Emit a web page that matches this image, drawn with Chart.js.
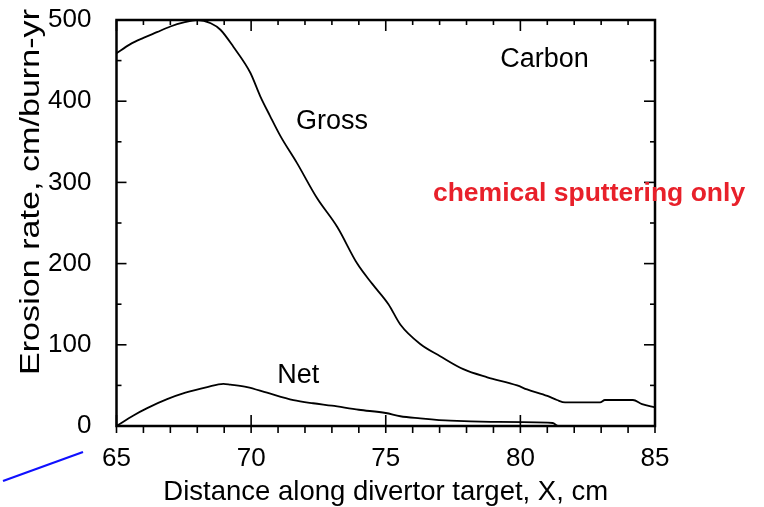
<!DOCTYPE html>
<html lang="en">
<head>
<meta charset="UTF-8">
<title>Carbon erosion rate along divertor target</title>
<script src="https://cdn.jsdelivr.net/npm/chart.js"></script>
<style>
  body { margin: 0; background: #fff; }
  canvas { display: block; }
</style>
</head>
<body>
<canvas id="erosionChart" width="764" height="507"></canvas>
<script>
  // distance along target (cm) and erosion rate (cm/burn-yr), chemical sputtering only
  const grossX = [65, 65.5, 66, 66.5, 67, 67.5, 68, 68.5, 68.86, 69.34, 69.97, 70.34, 70.7, 71.09, 71.7,
                  72.44, 73.2, 73.94, 74.5, 75.1, 75.54, 76.28, 77.02, 77.88, 78.77, 79.88, 80.25, 81.0,
                  81.36, 81.66, 82.96, 83.14, 84.18, 84.52, 85];
  const grossRate = [459, 470, 478, 485, 492, 497, 500, 496, 488, 467, 435, 406, 382, 357, 324,
                     281, 245, 200, 175, 150, 125, 101, 86, 70, 60, 50, 45, 37,
                     32, 29, 29, 32, 32, 27, 23];
  const netX = [65, 65.63, 66.14, 66.88, 67.56, 68.37, 68.97, 69.23, 69.85, 70.59, 71.57, 72.3, 73, 74,
                75, 75.54, 76.28, 77.4, 78.9, 81.2, 81.4, 85];
  const netRate = [0, 13, 22, 33, 41, 48, 52, 51, 48, 41, 32, 28, 25, 20,
                   16, 12, 9.5, 6.5, 5, 3.7, 0, 0];

  const FONT = "'Liberation Sans', Arial, sans-serif";

  function toPoints(xs, ys) {
    return xs.map((x, i) => ({ x: x, y: ys[i] }));
  }

  function stroke(ctx, x1, y1, x2, y2) {
    ctx.beginPath();
    ctx.moveTo(x1, y1);
    ctx.lineTo(x2, y2);
    ctx.stroke();
  }

  // box frame with inward tick marks on all four sides
  const framePlugin = {
    id: 'frame',
    afterDraw(chart) {
      const { ctx, chartArea: a, scales: { x, y } } = chart;
      ctx.save();
      ctx.strokeStyle = '#000';
      ctx.lineWidth = 2.5;
      ctx.strokeRect(a.left, a.top, a.right - a.left, a.bottom - a.top);
      ctx.lineWidth = 1.6;
      for (let v = x.min; v <= x.max; v += 1) {
        const px = x.getPixelForValue(v);
        const major = v % 5 === 0;
        stroke(ctx, px, a.top, px, a.top + (major ? 11 : 5));
        stroke(ctx, px, a.bottom + 7, px, a.bottom - (major ? 11 : 0));
      }
      for (let v = y.min; v <= y.max; v += 50) {
        const py = y.getPixelForValue(v);
        const major = v % 100 === 0;
        stroke(ctx, a.left, py, a.left + (major ? 10 : 5), py);
        stroke(ctx, a.right, py, a.right - (major ? 11 : 5), py);
      }
      ctx.restore();
    }
  };

  // axis titles, curve labels and notes
  const textPlugin = {
    id: 'texts',
    afterDraw(chart) {
      const { ctx, chartArea: a, scales: { x, y } } = chart;
      ctx.save();
      ctx.fillStyle = '#000';
      ctx.textBaseline = 'alphabetic';
      ctx.textAlign = 'center';

      ctx.font = '27.5px ' + FONT;
      ctx.fillText('Distance along divertor target, X, cm', (a.left + a.right) / 2, 500);

      // vertical title, slightly stretched along its length
      const yTitle = 'Erosion rate, cm/burn-yr';
      ctx.font = '27px ' + FONT;
      const w = ctx.measureText(yTitle).width;
      ctx.save();
      ctx.translate(39, 192);
      ctx.rotate(-Math.PI / 2);
      ctx.scale(366 / w, 1);
      ctx.fillText(yTitle, 0, 0);
      ctx.restore();

      ctx.font = '27px ' + FONT;
      ctx.fillText('Carbon', x.getPixelForValue(80.9), y.getPixelForValue(442.5));
      ctx.fillText('Gross', x.getPixelForValue(73.0), y.getPixelForValue(366));
      ctx.fillText('Net', x.getPixelForValue(71.75), y.getPixelForValue(53));

      ctx.fillStyle = '#e8202a';
      ctx.font = 'bold 26.5px ' + FONT;
      ctx.fillText('chemical sputtering only', x.getPixelForValue(82.55), y.getPixelForValue(277));

      // blue pointer stroke at the lower left
      ctx.strokeStyle = '#1010ff';
      ctx.lineWidth = 2.2;
      stroke(ctx, 3, 481, 83, 452);
      ctx.restore();
    }
  };

  new Chart(document.getElementById('erosionChart'), {
    type: 'scatter',
    data: {
      datasets: [
        {
          label: 'Gross',
          data: toPoints(grossX, grossRate),
          showLine: true,
          borderColor: '#000',
          borderWidth: 1.8,
          pointRadius: 0,
          cubicInterpolationMode: 'monotone'
        },
        {
          label: 'Net',
          data: toPoints(netX, netRate),
          showLine: true,
          borderColor: '#000',
          borderWidth: 1.8,
          pointRadius: 0,
          cubicInterpolationMode: 'monotone'
        }
      ]
    },
    options: {
      responsive: false,
      animation: false,
      layout: { padding: { left: 0, top: 20, right: 109, bottom: 0 } },
      plugins: {
        legend: { display: false },
        tooltip: { enabled: false }
      },
      scales: {
        x: {
          type: 'linear',
          min: 65,
          max: 85,
          afterFit(scale) {
            scale.height = 81;
            scale.paddingLeft = 0;
            scale.paddingRight = 0;
          },
          grid: { display: false },
          border: { display: false },
          ticks: {
            stepSize: 5,
            padding: 9,
            color: '#000',
            font: { family: FONT, size: 26 }
          }
        },
        y: {
          min: 0,
          max: 500,
          afterFit(scale) {
            scale.width = 116.5;
            scale.paddingTop = 0;
            scale.paddingBottom = 0;
          },
          grid: { display: false },
          border: { display: false },
          ticks: {
            stepSize: 100,
            padding: 17,
            color: '#000',
            font: { family: FONT, size: 26 }
          }
        }
      }
    },
    plugins: [framePlugin, textPlugin]
  });
</script>
</body>
</html>
